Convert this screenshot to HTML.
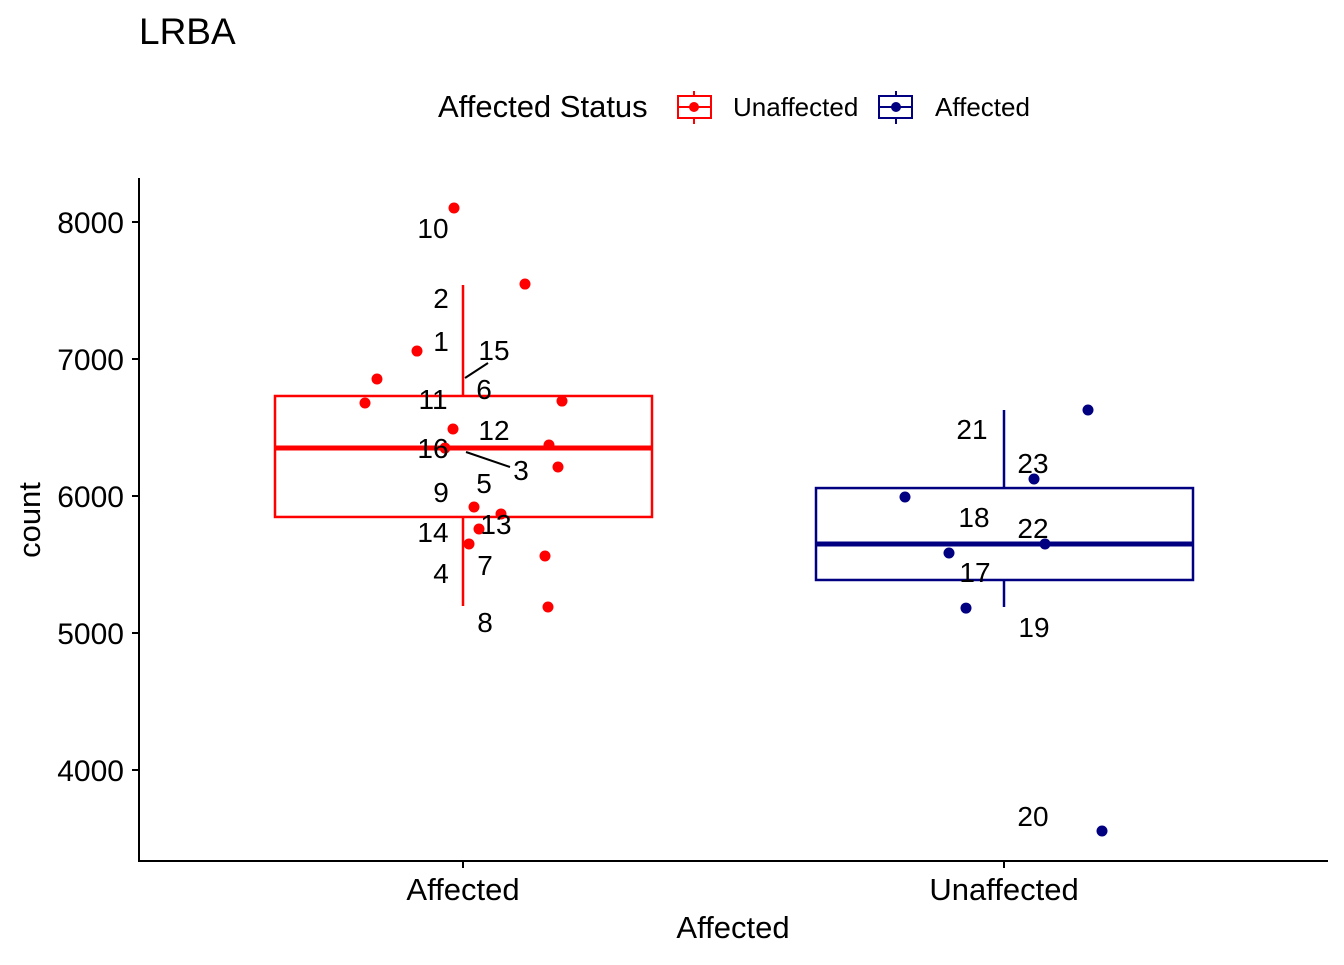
<!DOCTYPE html>
<html><head><meta charset="utf-8"><style>
body{margin:0;background:#fff}
svg text{font-family:"Liberation Sans",Arial,sans-serif}
</style></head><body>
<svg id="c" width="1344" height="960" xmlns="http://www.w3.org/2000/svg">
<rect width="1344" height="960" fill="#fff"/>
<text x="139" y="44" font-size="37">LRBA</text>
<g>
<text x="438" y="117" font-size="31">Affected Status</text>
<g>
<line x1="694" y1="91" x2="694" y2="124" stroke="#ff0000" stroke-width="2"/>
<rect x="678" y="96" width="33" height="22" fill="#fff" stroke="#ff0000" stroke-width="2"/>
<line x1="678" y1="107" x2="711" y2="107" stroke="#ff0000" stroke-width="2"/>
<circle cx="694" cy="107" r="5" fill="#ff0000"/>
<text x="733" y="116" font-size="26">Unaffected</text></g>
<g>
<line x1="896" y1="91" x2="896" y2="124" stroke="#000080" stroke-width="2"/>
<rect x="879" y="96" width="33" height="22" fill="#fff" stroke="#000080" stroke-width="2"/>
<line x1="879" y1="107" x2="912" y2="107" stroke="#000080" stroke-width="2"/>
<circle cx="896" cy="107" r="5" fill="#000080"/>
<text x="935" y="116" font-size="26">Affected</text></g>
</g>
<g id="plot"></g>
<text x="733" y="938" font-size="31" text-anchor="middle">Affected</text>
<text transform="translate(40,520) rotate(-90)" font-size="31" text-anchor="middle">count</text>
</svg>
<script>
const categories=["Affected","Unaffected"];
const colors=["#ff0000","#000080"];
const yTicks=[4000,5000,6000,7000,8000];
const boxStats=[[5197,5847,6350,6730,7540],[5190,5387,5650,6058,6628]];
const ptGroup=[0,0,0,0,0,0,0,0,0,0,0,0,0,0,0,0,1,1,1,1,1,1,1];
const ptJitter=[-9,62,-46,-86,-98,99,-10,86,95,11,38,16,6,82,85,-18,-99,-55,-38,30,41,84,98];
const ptValues=[8102,7547,7058,6854,6679,6693,6489,6372,6212,5920,5869,5759,5650,5562,5190,6350,5993,5584,5182,6124,5650,6628,3555];
const ptLabels=["1","2","3","4","5","6","7","8","9","10","11","12","13","14","15","16","17","18","19","20","21","22","23"];
const lblX=[441,441,521,441,484,484,485,485,441,433,433,494,496,433,494,433,975,974,1034,1033,972,1033,1033];
const lblY=[341,298,470,573,483,389,565,622,492,228,399,430,524,532,350,448,572,517,627,816,429,528,463];
const y=v=>222+(8000-v)*0.137;
const x=i=>463+i*541;
const g=document.getElementById('plot');
const NS="http://www.w3.org/2000/svg";
function mk(t,a,p){const e=document.createElementNS(NS,t);for(const k in a)e.setAttribute(k,a[k]);(p||g).appendChild(e);return e;}
let ax=mk('line',{x1:139,y1:178,x2:139,y2:862,stroke:'#000','stroke-width':2});


ax=mk('line',{x1:138,y1:861,x2:1328,y2:861,stroke:'#000','stroke-width':2});


yTicks.forEach(v=>{mk('line',{x1:132,x2:139,y1:y(v),y2:y(v),stroke:'#000','stroke-width':2});
const t=mk('text',{x:124,y:y(v)+11,'font-size':30,'text-anchor':'end'});t.textContent=v;

});
categories.forEach((c,i)=>{mk('line',{x1:x(i),x2:x(i),y1:861,y2:868,stroke:'#000','stroke-width':2});
const t=mk('text',{x:x(i),y:900,'font-size':31,'text-anchor':'middle'});t.textContent=c;


const s=boxStats[i],col=colors[i],bg=mk('g',{});


mk('line',{x1:x(i),x2:x(i),y1:y(s[4]),y2:y(s[3]),stroke:col,'stroke-width':2.5},bg);
mk('line',{x1:x(i),x2:x(i),y1:y(s[1]),y2:y(s[0]),stroke:col,'stroke-width':2.5},bg);
mk('rect',{x:x(i)-188,width:377,y:y(s[3]),height:y(s[1])-y(s[3]),fill:'none',stroke:col,'stroke-width':2.5},bg);
mk('line',{x1:x(i)-188,x2:x(i)+189,y1:y(s[2]),y2:y(s[2]),stroke:col,'stroke-width':5},bg);});
ptValues.forEach((v,k)=>{const c=mk('circle',{cx:x(ptGroup[k])+ptJitter[k],cy:y(v),r:5.5,fill:colors[ptGroup[k]]});

});
mk('line',{x1:465,y1:378,x2:488,y2:363,stroke:'#000','stroke-width':2});
mk('line',{x1:466,y1:452,x2:510,y2:467,stroke:'#000','stroke-width':2});
ptLabels.forEach((l,k)=>{const t=mk('text',{x:lblX[k],y:lblY[k]+10,'font-size':28,'text-anchor':'middle'});t.textContent=l;

});
</script>
</body></html>
